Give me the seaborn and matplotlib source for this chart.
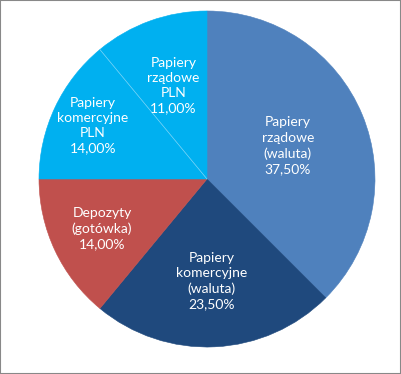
import matplotlib
matplotlib.use("Agg")
import matplotlib.pyplot as plt
import seaborn as sns
import numpy as np

# ── Data ─────────────────────────────────────
labels = ["Papiery\nrządowe\n(waluta)",
          "Papiery\nkomercyjne\n(waluta)",
          "Depozyty\n(gotówka)",
          "Papiery\nkomercyjne\nPLN",
          "Papiery\nrządowe\nPLN"]
shares = [37.5, 23.5, 14.0, 14.0, 11.0]
colors = ["#4F81BD", "#1F497D", "#C0504D", "#00B0F0", "#00B0F0"]
label_dist = [0.52, 0.61, 0.69, 0.75, 0.59]

sns.set_theme(style="white")
plt.rcParams["font.family"] = ["Lato", "DejaVu Sans"]

fig = plt.figure(figsize=(4.01, 3.74), dpi=100)
R = 168
cx, cy = 207, 179
ax = fig.add_axes([(cx - R) / 401, (374 - cy - R) / 374, 2 * R / 401, 2 * R / 374])

wedges, _ = ax.pie(shares, colors=colors, startangle=90, counterclock=False,
                   wedgeprops=dict(linewidth=0.4))
for w in wedges:
    w.set_edgecolor(w.get_facecolor())

# faint separator between the two same-coloured cyan slices
a3 = {round(wedges[3].theta1 % 360, 3), round(wedges[3].theta2 % 360, 3)}
a4 = {round(wedges[4].theta1 % 360, 3), round(wedges[4].theta2 % 360, 3)}
sep = np.deg2rad(list(a3 & a4)[0])
ax.plot([0, np.cos(sep)], [0, np.sin(sep)], color="#7FD6F7", lw=0.5)

for w, lab, share, d in zip(wedges, labels, shares, label_dist):
    ang = np.deg2rad((w.theta1 + w.theta2) / 2)
    txt = f"{lab}\n{share:.2f}%".replace(".", ",")
    ax.text(d * np.cos(ang), d * np.sin(ang), txt, ha="center", va="center",
            color="white", fontsize=10, linespacing=1.32)

ax.set_xlim(-1, 1)
ax.set_ylim(-1, 1)
ax.axis("off")

# thin gray frame around the figure
fig.patches.append(plt.Rectangle((0, 0), 1, 1, transform=fig.transFigure,
                                 fill=False, edgecolor="#888888", linewidth=1.5))

fig.savefig("out.png", dpi=100)
